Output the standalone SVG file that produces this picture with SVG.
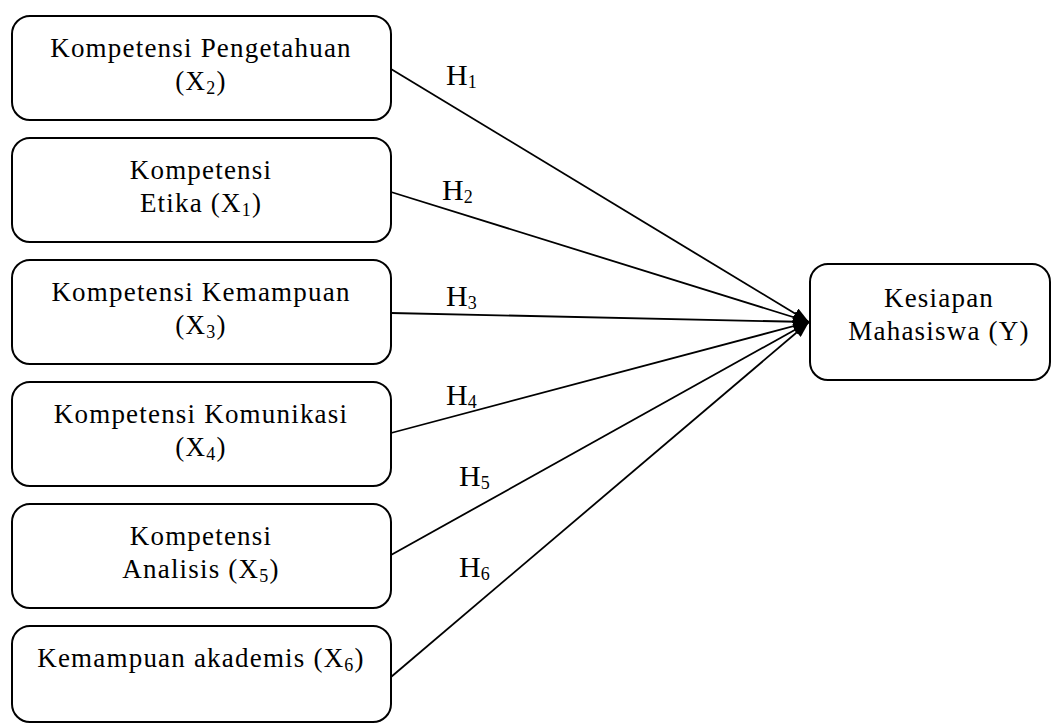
<svg xmlns="http://www.w3.org/2000/svg" width="1057" height="725" viewBox="0 0 1057 725">
<style>
.box{fill:#fff;stroke:#000;stroke-width:2}
.t{font-family:"Liberation Serif","Times New Roman",serif;font-size:27px;letter-spacing:1.2px;fill:#000;text-anchor:middle}
.h{font-family:"Liberation Serif","Times New Roman",serif;font-size:30px;fill:#000}
.s{font-size:18px}
.c{stroke:#000;stroke-width:1.8;fill:none;marker-end:url(#ah)}
</style>
<defs>
<marker id="ah" markerUnits="userSpaceOnUse" viewBox="0 0 16 12" refX="16" refY="6" markerWidth="16" markerHeight="12" orient="auto">
<path d="M0,0 L16,6 L0,12 z" fill="#000"/>
</marker>
</defs>
<g id="connectors">
<line class="c" x1="391" y1="69" x2="809" y2="322"/>
<line class="c" x1="391" y1="192" x2="809" y2="322"/>
<line class="c" x1="391" y1="313" x2="809" y2="322"/>
<line class="c" x1="391" y1="433" x2="809" y2="322"/>
<line class="c" x1="391" y1="555" x2="809" y2="322"/>
<line class="c" x1="391" y1="677" x2="809" y2="322"/>
</g>
<g id="labels">
<text class="h" x="446" y="85">H<tspan class="s" dy="3">1</tspan></text>
<text class="h" x="442" y="200">H<tspan class="s" dy="3">2</tspan></text>
<text class="h" x="446" y="306">H<tspan class="s" dy="3">3</tspan></text>
<text class="h" x="446" y="405">H<tspan class="s" dy="3">4</tspan></text>
<text class="h" x="459" y="486">H<tspan class="s" dy="3">5</tspan></text>
<text class="h" x="459" y="577">H<tspan class="s" dy="3">6</tspan></text>
</g>
<g id="x2">
<rect class="box" x="12" y="16" width="379" height="104" rx="18"/>
<text class="t" x="201" y="57">Kompetensi Pengetahuan</text>
<text class="t" x="201" y="90">(X<tspan class="s" dy="4">2</tspan><tspan dy="-4">)</tspan></text>
</g>
<g id="x1">
<rect class="box" x="12" y="138" width="379" height="104" rx="18"/>
<text class="t" x="201" y="179">Kompetensi</text>
<text class="t" x="201" y="212">Etika (X<tspan class="s" dy="4">1</tspan><tspan dy="-4">)</tspan></text>
</g>
<g id="x3">
<rect class="box" x="12" y="260" width="379" height="104" rx="18"/>
<text class="t" x="201" y="301">Kompetensi Kemampuan</text>
<text class="t" x="201" y="334">(X<tspan class="s" dy="4">3</tspan><tspan dy="-4">)</tspan></text>
</g>
<g id="x4">
<rect class="box" x="12" y="382" width="379" height="104" rx="18"/>
<text class="t" x="201" y="423">Kompetensi Komunikasi</text>
<text class="t" x="201" y="456">(X<tspan class="s" dy="4">4</tspan><tspan dy="-4">)</tspan></text>
</g>
<g id="x5">
<rect class="box" x="12" y="504" width="379" height="104" rx="18"/>
<text class="t" x="201" y="545">Kompetensi</text>
<text class="t" x="201" y="578">Analisis (X<tspan class="s" dy="4">5</tspan><tspan dy="-4">)</tspan></text>
</g>
<g id="x6">
<rect class="box" x="12" y="626" width="379" height="96" rx="18"/>
<text class="t" x="201" y="667">Kemampuan akademis (X<tspan class="s" dy="4">6</tspan><tspan dy="-4">)</tspan></text>
</g>
<g id="y">
<rect class="box" x="810" y="264" width="240" height="116" rx="18"/>
<text class="t" x="939" y="307">Kesiapan</text>
<text class="t" x="939" y="340">Mahasiswa (Y)</text>
</g>
</svg>
